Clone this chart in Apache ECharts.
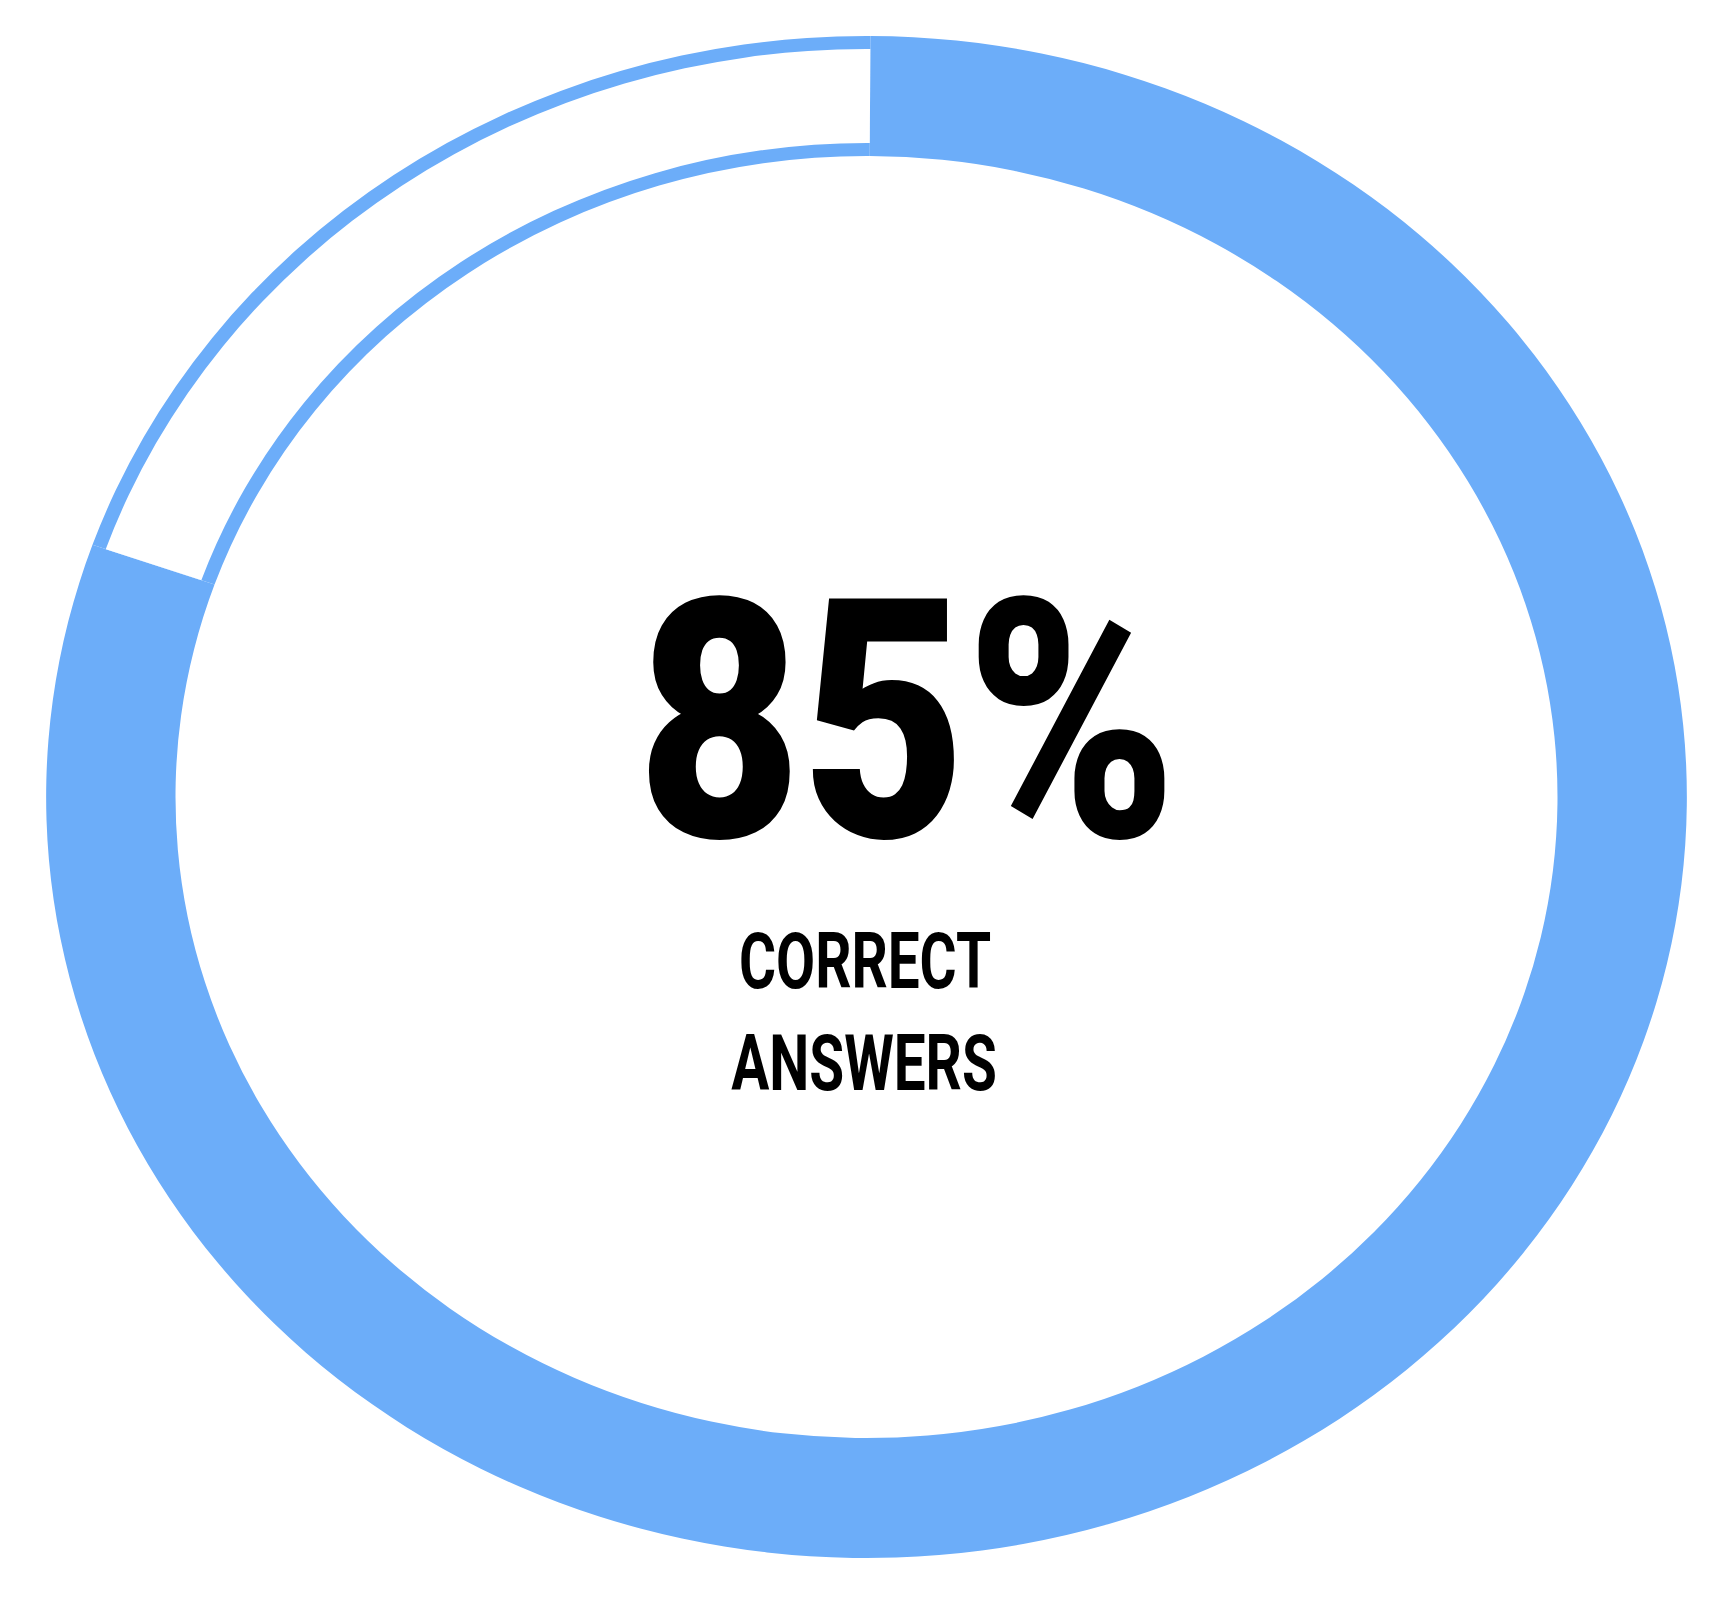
<!DOCTYPE html>
<html>
<head>
<meta charset="utf-8">
<script src="https://cdn.jsdelivr.net/npm/echarts@6/dist/echarts.min.js"></script>
<style>
  html, body { margin: 0; padding: 0; background: #ffffff; }
  #wrap { position: relative; width: 1718px; height: 1610px; overflow: hidden; background: #fff; }
  #ring { position: absolute; left: 0; top: 0; width: 1718px; height: 1610px;
          transform: scaleX(1.078); transform-origin: 866.5px 0; }
  #txt { position: absolute; left: 0; top: 0; width: 1718px; height: 1610px; }
</style>
</head>
<body>
<div id="wrap">
  <div id="ring"></div>
  <div id="txt"></div>
</div>
<script>
// ---- data ----
const categories = ['Correct', 'Remaining'];
const sliceValues = [80.3, 19.7];          // arc shares as drawn in the picture
const headline = '85%';
const captionLines = ['CORRECT', 'ANSWERS'];

const BLUE = '#6cadf9';

const ring = echarts.init(document.getElementById('ring'), null, { renderer: 'svg' });
const pieData = categories.map((c, i) => ({ name: c, value: sliceValues[i] }));

ring.setOption({
  animation: false,
  backgroundColor: 'transparent',
  series: [
    {
      type: 'pie',
      center: [866.5, 797],
      radius: [641, 761],
      startAngle: 89.73,
      clockwise: true,
      silent: true,
      label: { show: false },
      labelLine: { show: false },
      itemStyle: { color: BLUE, borderWidth: 0 },
      data: pieData
    },
    {
      type: 'pie',
      center: [866.5, 797],
      radius: [654, 748],
      startAngle: 89.73,
      clockwise: true,
      silent: true,
      label: { show: false },
      labelLine: { show: false },
      itemStyle: { borderWidth: 0 },
      data: pieData.map((d, i) => ({
        name: d.name, value: d.value,
        itemStyle: { color: i === 0 ? 'rgba(0,0,0,0)' : '#ffffff' }
      }))
    }
  ]
});

const txt = echarts.init(document.getElementById('txt'), null, { renderer: 'canvas' });
const FONT = 'Roboto, "DejaVu Sans", sans-serif';
txt.setOption({
  animation: false,
  backgroundColor: 'transparent',
  graphic: [
    {
      type: 'text', x: 907, y: 753, scaleX: 0.847,
      style: { text: headline, fill: '#000', fontFamily: FONT, fontWeight: 900,
               fontSize: 335, textAlign: 'center', textVerticalAlign: 'middle' }
    },
    {
      type: 'text', x: 865, y: 968.7, scaleX: 0.736,
      style: { text: captionLines[0], fill: '#000', fontFamily: FONT, fontWeight: 'bold',
               fontSize: 77, textAlign: 'center', textVerticalAlign: 'middle' }
    },
    {
      type: 'text', x: 864, y: 1071, scaleX: 0.736,
      style: { text: captionLines[1], fill: '#000', fontFamily: FONT, fontWeight: 'bold',
               fontSize: 77, textAlign: 'center', textVerticalAlign: 'middle' }
    }
  ]
});
</script>
</body>
</html>
